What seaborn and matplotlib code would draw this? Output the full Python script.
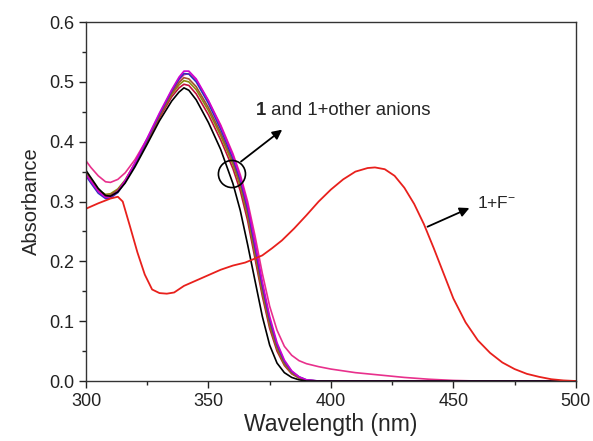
""" UV-vis titration of 1 with anions """

import pandas as pd
import matplotlib
matplotlib.use("Agg")
import matplotlib.pyplot as plt
import seaborn as sns
from matplotlib.ticker import MultipleLocator

# Wavelength grid shared by 1 and 1 + other anions (nm)
wl = [300, 302, 305, 308, 310, 313, 316, 320, 325, 330, 335, 338, 340, 342, 345,
      350, 355, 360, 363, 366, 369, 372, 375, 378, 381, 384, 387, 390, 395, 400,
      410, 420, 430, 440, 450, 460, 480, 500]

# Absorbance of each curve
abs_black = [0.352, 0.340, 0.322, 0.310, 0.309, 0.316, 0.331, 0.358, 0.396, 0.435, 0.468, 0.483, 0.490, 0.486, 0.470,
             0.432, 0.387, 0.330, 0.285, 0.228, 0.168, 0.108, 0.060, 0.030, 0.014, 0.006, 0.002, 0.0, 0.0, 0.0,
             0.0, 0.0, 0.0, 0.0, 0.0, 0.0, 0.0, 0.0]
abs_crimson = [0.350, 0.338, 0.320, 0.309, 0.309, 0.317, 0.333, 0.361, 0.400, 0.440, 0.475, 0.490, 0.496, 0.494, 0.480,
               0.445, 0.403, 0.355, 0.318, 0.268, 0.205, 0.142, 0.088, 0.050, 0.026, 0.012, 0.005, 0.001, 0.0, 0.0,
               0.0, 0.0, 0.0, 0.0, 0.0, 0.0, 0.0, 0.0]
abs_olive = [0.347, 0.336, 0.319, 0.312, 0.313, 0.321, 0.336, 0.364, 0.403, 0.443, 0.479, 0.495, 0.502, 0.500, 0.487,
             0.452, 0.410, 0.362, 0.326, 0.276, 0.212, 0.148, 0.093, 0.054, 0.028, 0.013, 0.005, 0.001, 0.0, 0.0,
             0.0, 0.0, 0.0, 0.0, 0.0, 0.0, 0.0, 0.0]
abs_brown = [0.345, 0.334, 0.318, 0.310, 0.311, 0.319, 0.335, 0.363, 0.403, 0.444, 0.481, 0.499, 0.507, 0.505, 0.492,
             0.457, 0.415, 0.367, 0.331, 0.282, 0.218, 0.153, 0.097, 0.057, 0.030, 0.014, 0.006, 0.001, 0.0, 0.0,
             0.0, 0.0, 0.0, 0.0, 0.0, 0.0, 0.0, 0.0]
abs_blue = [0.343, 0.331, 0.314, 0.305, 0.306, 0.315, 0.333, 0.363, 0.404, 0.446, 0.485, 0.505, 0.514, 0.513, 0.500,
            0.464, 0.421, 0.372, 0.336, 0.288, 0.225, 0.160, 0.103, 0.061, 0.033, 0.016, 0.007, 0.002, 0.0, 0.0,
            0.0, 0.0, 0.0, 0.0, 0.0, 0.0, 0.0, 0.0]
abs_magenta = [0.345, 0.334, 0.317, 0.307, 0.308, 0.317, 0.335, 0.365, 0.406, 0.448, 0.487, 0.508, 0.518, 0.518, 0.505,
               0.469, 0.426, 0.377, 0.341, 0.294, 0.232, 0.166, 0.108, 0.064, 0.035, 0.017, 0.007, 0.002, 0.0, 0.0,
               0.0, 0.0, 0.0, 0.0, 0.0, 0.0, 0.0, 0.0]
abs_pink = [0.368, 0.357, 0.343, 0.333, 0.332, 0.337, 0.348, 0.370, 0.405, 0.445, 0.483, 0.503, 0.512, 0.514, 0.503,
            0.468, 0.428, 0.380, 0.345, 0.300, 0.243, 0.180, 0.125, 0.085, 0.058, 0.043, 0.034, 0.029, 0.024, 0.020,
            0.014, 0.010, 0.006, 0.003, 0.001, 0.0, 0.0, 0.0]

# 1 + F- has its own grid
wl_f = [300, 305, 310, 313, 315, 318, 321, 324, 327, 330, 333, 336, 340, 345, 350, 355, 360, 365, 368, 372,
        376, 380, 385, 390, 395, 400, 405, 410, 415, 418, 422, 426, 430, 434, 438, 442, 446, 450, 455, 460,
        465, 470, 475, 480, 485, 490, 495, 500]
abs_f = [0.288, 0.297, 0.305, 0.308, 0.300, 0.258, 0.215, 0.178, 0.153, 0.147, 0.146, 0.148, 0.159, 0.168, 0.177,
         0.186, 0.193, 0.198, 0.203, 0.210, 0.222, 0.235, 0.255, 0.277, 0.300, 0.320, 0.337, 0.350, 0.356, 0.357,
         0.354, 0.343, 0.323, 0.296, 0.262, 0.222, 0.180, 0.138, 0.098, 0.068, 0.047, 0.031, 0.020, 0.012, 0.007,
         0.003, 0.001, 0.0]

series = [
    ("pink", abs_pink, "#e8308c"),
    ("crimson", abs_crimson, "#c0103c"),
    ("olive", abs_olive, "#8a8a10"),
    ("brown", abs_brown, "#a0522d"),
    ("blue", abs_blue, "#3030c0"),
    ("magenta", abs_magenta, "#d000d0"),
    ("black", abs_black, "#000000"),
]

sns.set_style("ticks")
plt.rcParams["font.family"] = ["Liberation Sans", "DejaVu Sans"]
plt.rcParams["mathtext.fontset"] = "custom"
plt.rcParams["mathtext.rm"] = "Liberation Sans"

fig = plt.figure(figsize=(5.93, 4.41), dpi=100)
ax = fig.add_axes([0.145, 0.136, 0.826, 0.814])

for name, vals, col in series:
    df = pd.DataFrame({"Wavelength": wl, "Absorbance": vals})
    sns.lineplot(data=df, x="Wavelength", y="Absorbance", color=col, linewidth=1.2, ax=ax)

dff = pd.DataFrame({"Wavelength": wl_f, "Absorbance": abs_f})
sns.lineplot(data=dff, x="Wavelength", y="Absorbance", color="#e8201c", linewidth=1.3, ax=ax)

ax.set_xlim(300, 500)
ax.set_ylim(0, 0.6)
ax.xaxis.set_major_locator(MultipleLocator(50))
ax.xaxis.set_minor_locator(MultipleLocator(25))
ax.yaxis.set_major_locator(MultipleLocator(0.1))
ax.yaxis.set_minor_locator(MultipleLocator(0.05))
ax.tick_params(which="major", direction="out", length=5, width=1, labelsize=13, colors="#222222")
ax.tick_params(which="minor", direction="out", length=3, width=1)
for sp in ax.spines.values():
    sp.set_linewidth(1.0)
    sp.set_color("#333333")
ax.set_xlabel("Wavelength (nm)", fontsize=16.5, labelpad=2)
ax.set_ylabel("Absorbance", fontsize=14.5, labelpad=6)

# Circle and arrow for 1 and 1 + other anions
ax.scatter([359.6], [0.346], s=380, facecolors="none", edgecolors="black", linewidths=1.2, zorder=5)
ax.annotate("", xy=(381, 0.423), xytext=(362.4, 0.364),
            arrowprops=dict(arrowstyle="-|>", color="black", lw=1.3, mutation_scale=14))
t1 = ax.text(369.5, 0.452, "1", fontsize=13.4, fontweight="bold", va="center")
ax.annotate(" and 1+other anions", xy=(1, 0.5), xycoords=t1, va="center", fontsize=13.4)

# Arrow for 1 + F-
ax.annotate("", xy=(457.6, 0.291), xytext=(438.4, 0.256),
            arrowprops=dict(arrowstyle="-|>", color="black", lw=1.3, mutation_scale=14))
ax.text(459.6, 0.298, "1+F$^{-}$", fontsize=12.5, va="center")

plt.savefig("out.png", dpi=100)
